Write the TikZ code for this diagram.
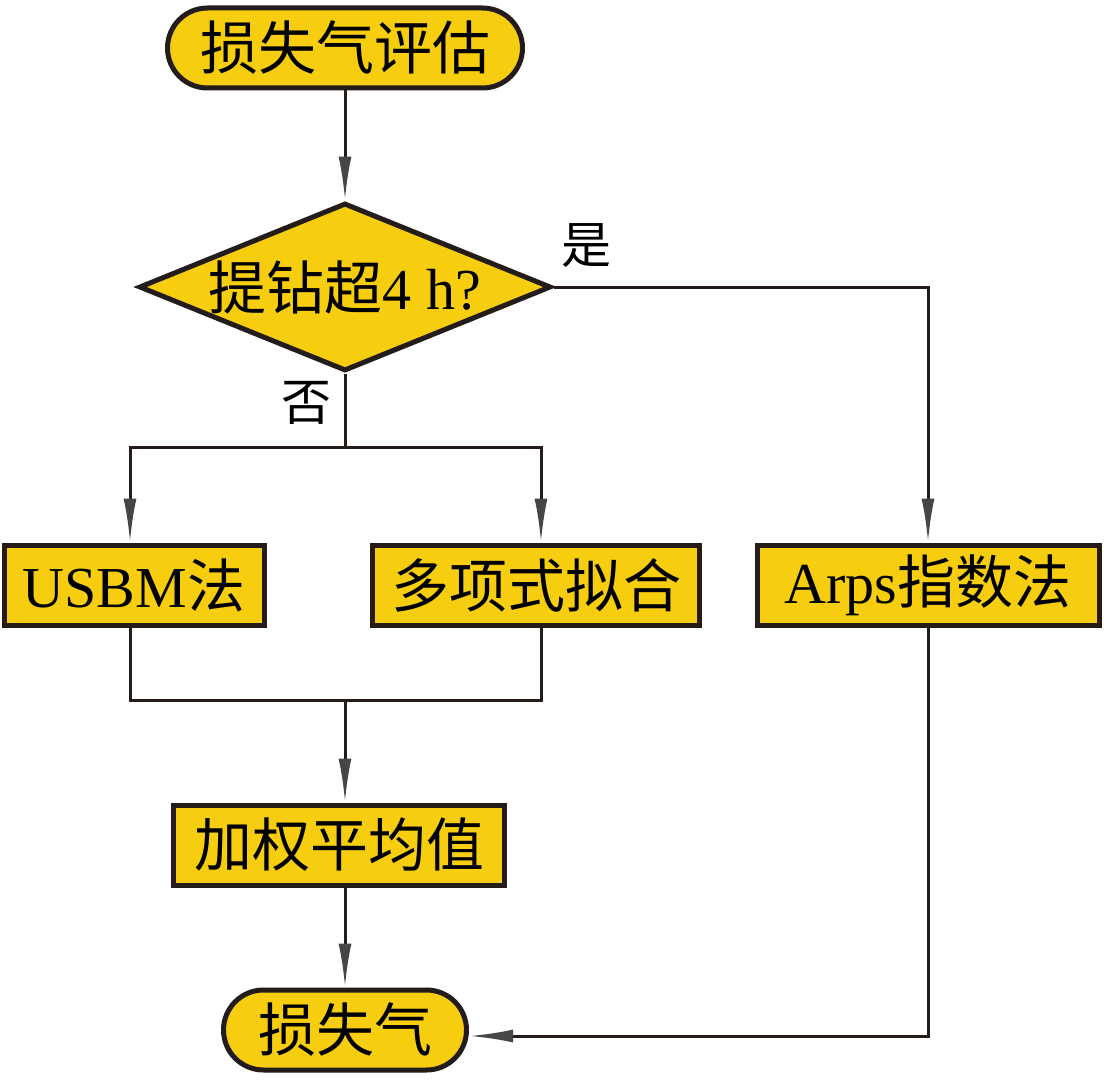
\documentclass[tikz,border=0pt]{standalone}
\usepackage{fontspec}
\setmainfont{Liberation Serif}
\newfontfamily\cjk{Noto Sans CJK SC}
\usetikzlibrary{positioning, shapes.geometric, arrows.meta}
\definecolor{boxyellow}{RGB}{247,205,16}
\definecolor{linedark}{RGB}{35,28,24}
\definecolor{tipgrey}{RGB}{70,70,70}
\tikzstyle{terminal} = [rectangle, rounded corners=40pt, minimum height=80pt, text centered, draw=linedark, line width=5pt, fill=boxyellow]
\tikzstyle{decision} = [diamond, minimum width=412pt, minimum height=168pt, inner sep=0pt, draw=linedark, line width=5pt, fill=boxyellow]
\tikzstyle{process} = [rectangle, minimum height=80pt, text centered, draw=linedark, line width=5pt, fill=boxyellow]
\tikzstyle{arrow} = [-{Latex[length=44pt, width=13pt, color=tipgrey]}, draw=linedark, line width=3pt]
\tikzstyle{line} = [draw=linedark, line width=3pt]

\begin{document}
\begin{tikzpicture}[node distance=239pt, font=\fontsize{58}{62}\selectfont]
    \useasboundingbox (0,0) rectangle (1104pt,-1081pt);
    % shapes
    \node (start) [terminal, minimum width=355pt] at (345pt,-48pt) {\cjk 损失气评估};
    \node (dec) [decision, below of = start, label={center:{\cjk 提钻超}4 h?}] {};
    \node (usbm) [process, below of = dec, yshift = -59pt, xshift = -211pt, minimum width=260pt] {USBM{\cjk 法}};
    \node (fit) [process, below of = dec, yshift = -59pt, xshift = 191pt, minimum width=327pt] {\cjk 多项式拟合};
    \node (arps) [process, below of = dec, yshift = -59pt, xshift = 583pt, minimum width=342pt] {Arps{\cjk 指数法}};
    \node (avg) [process, below of = dec, yshift = -319pt, xshift = -6pt, minimum width=331pt] {\cjk 加权平均值};
    \node (stop) [terminal, below of = avg, yshift = 54pt, xshift = 6pt, minimum width=243pt] {\cjk 损失气};
    \node (yes) [above right = 16pt and 4pt of dec.east, font=\fontsize{50}{54}\selectfont] {\cjk 是};
    \node (no) [below left = 4pt and 10pt of dec.south, font=\fontsize{50}{54}\selectfont] {\cjk 否};
    \coordinate [below = 74pt of dec.south] (split);
    \coordinate [below = 73pt of usbm.south -| split] (merge);

    % connectors
    \draw [arrow] (start) -- (dec);
    \draw [arrow] (dec.east) -| (arps.north);
    \draw [line] (dec.south) -- (split);
    \draw [arrow] (split) -| ([xshift=-4pt]usbm.north);
    \draw [arrow] (split) -| ([xshift=5pt]fit.north);
    \draw [line] ([xshift=-4pt]usbm.south) |- (merge) -| ([xshift=5pt]fit.south);
    \draw [arrow] (merge) -- (merge |- avg.north);
    \draw [arrow] (avg.south -| merge) -- (merge |- stop.north);
    \draw [arrow] (arps.south) |- ([yshift=-6pt]stop.east);
\end{tikzpicture}
\end{document}
